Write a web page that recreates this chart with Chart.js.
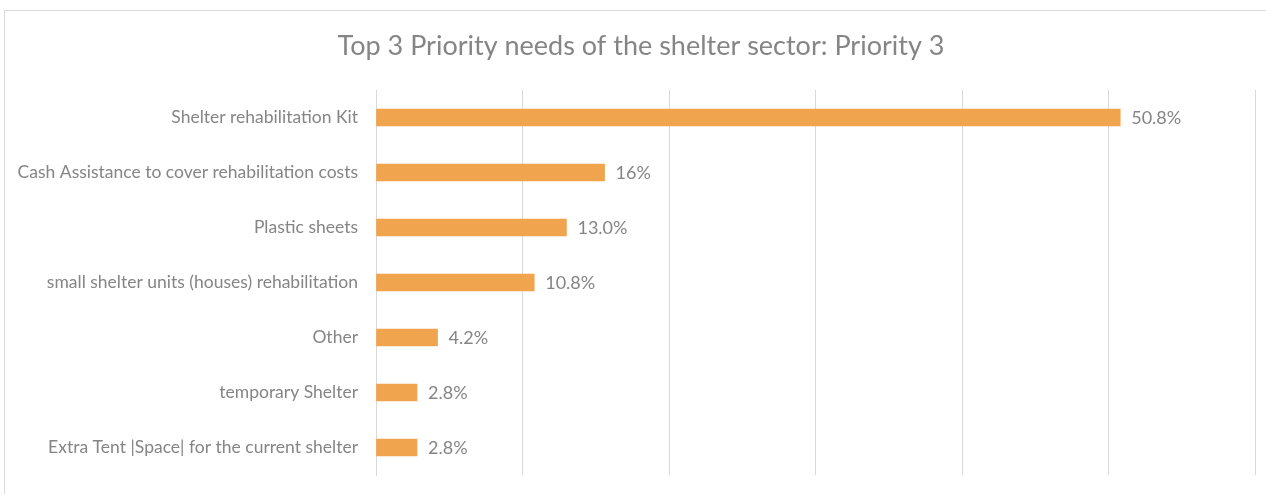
<!DOCTYPE html>
<html>
<head>
<meta charset="utf-8">
<script src="https://cdn.jsdelivr.net/npm/chart.js@4/dist/chart.umd.min.js"></script>
<style>
html,body{margin:0;padding:0;background:#fff;overflow:hidden;}
#wrap{position:absolute;left:0;top:0;width:1266px;height:494px;}
#frame{position:absolute;left:4px;top:10px;width:1280px;height:500px;border:1px solid #d9d9d9;box-sizing:border-box;}
canvas{position:absolute;left:0;top:0;}
</style>
</head>
<body>
<div id="wrap">
<div id="frame"></div>
<canvas id="c" width="1266" height="494"></canvas>
</div>
<script>
const titleText = "Top 3 Priority needs of the shelter sector: Priority 3";
const categories = [
  "Shelter rehabilitation Kit",
  "Cash Assistance to cover rehabilitation costs",
  "Plastic sheets",
  "small shelter units (houses) rehabilitation",
  "Other",
  "temporary Shelter",
  "Extra Tent |Space| for the current shelter"
];
const values = [50.8, 15.6, 13.0, 10.8, 4.2, 2.8, 2.8];
const valueLabels = ["50.8%", "16%", "13.0%", "10.8%", "4.2%", "2.8%", "2.8%"];
const xMin = 0, xMax = 60, xStep = 10;

const FONT = "Lato, 'Open Sans', sans-serif";
const TEXT = "#858585";

const titlePlugin = {
  id: 'customTitle',
  afterDraw(chart) {
    const ctx = chart.ctx;
    ctx.save();
    ctx.font = "27px " + FONT;
    ctx.fillStyle = TEXT;
    ctx.textAlign = "center";
    ctx.textBaseline = "middle";
    ctx.fillText(titleText, 641, 46);
    ctx.restore();
  }
};

const labelPlugin = {
  id: 'valueLabels',
  afterDatasetsDraw(chart) {
    const ctx = chart.ctx;
    const meta = chart.getDatasetMeta(0);
    ctx.save();
    ctx.font = "18px " + FONT;
    ctx.fillStyle = TEXT;
    ctx.textAlign = "left";
    ctx.textBaseline = "middle";
    meta.data.forEach((bar, i) => {
      ctx.fillText(valueLabels[i], bar.x + 11, bar.y + 1);
    });
    ctx.restore();
  }
};

new Chart(document.getElementById('c'), {
  type: 'bar',
  data: {
    labels: categories,
    datasets: [{
      data: values,
      backgroundColor: '#F0A44E',
      borderWidth: 0,
      barThickness: 17
    }]
  },
  options: {
    indexAxis: 'y',
    responsive: false,
    animation: false,
    layout: { padding: { top: 90, bottom: 19, left: 0, right: 11 } },
    plugins: {
      legend: { display: false },
      title: { display: false },
      tooltip: { enabled: false }
    },
    scales: {
      x: {
        min: xMin, max: xMax,
        ticks: { display: false, stepSize: xStep },
        grid: { color: '#d9d9d9', lineWidth: 1, drawTicks: false },
        border: { display: false },
        afterFit(scale) { scale.height = 0; }
      },
      y: {
        offset: true,
        grid: { display: false, drawTicks: false },
        border: { display: true, color: '#d9d9d9', width: 1 },
        ticks: {
          color: TEXT,
          font: { family: FONT, size: 17.5 },
          padding: 18,
          crossAlign: 'near'
        },
        afterFit(scale) { scale.width = 376; scale.paddingTop = 0; scale.paddingBottom = 0; }
      }
    }
  },
  plugins: [titlePlugin, labelPlugin]
});
</script>
</body>
</html>
